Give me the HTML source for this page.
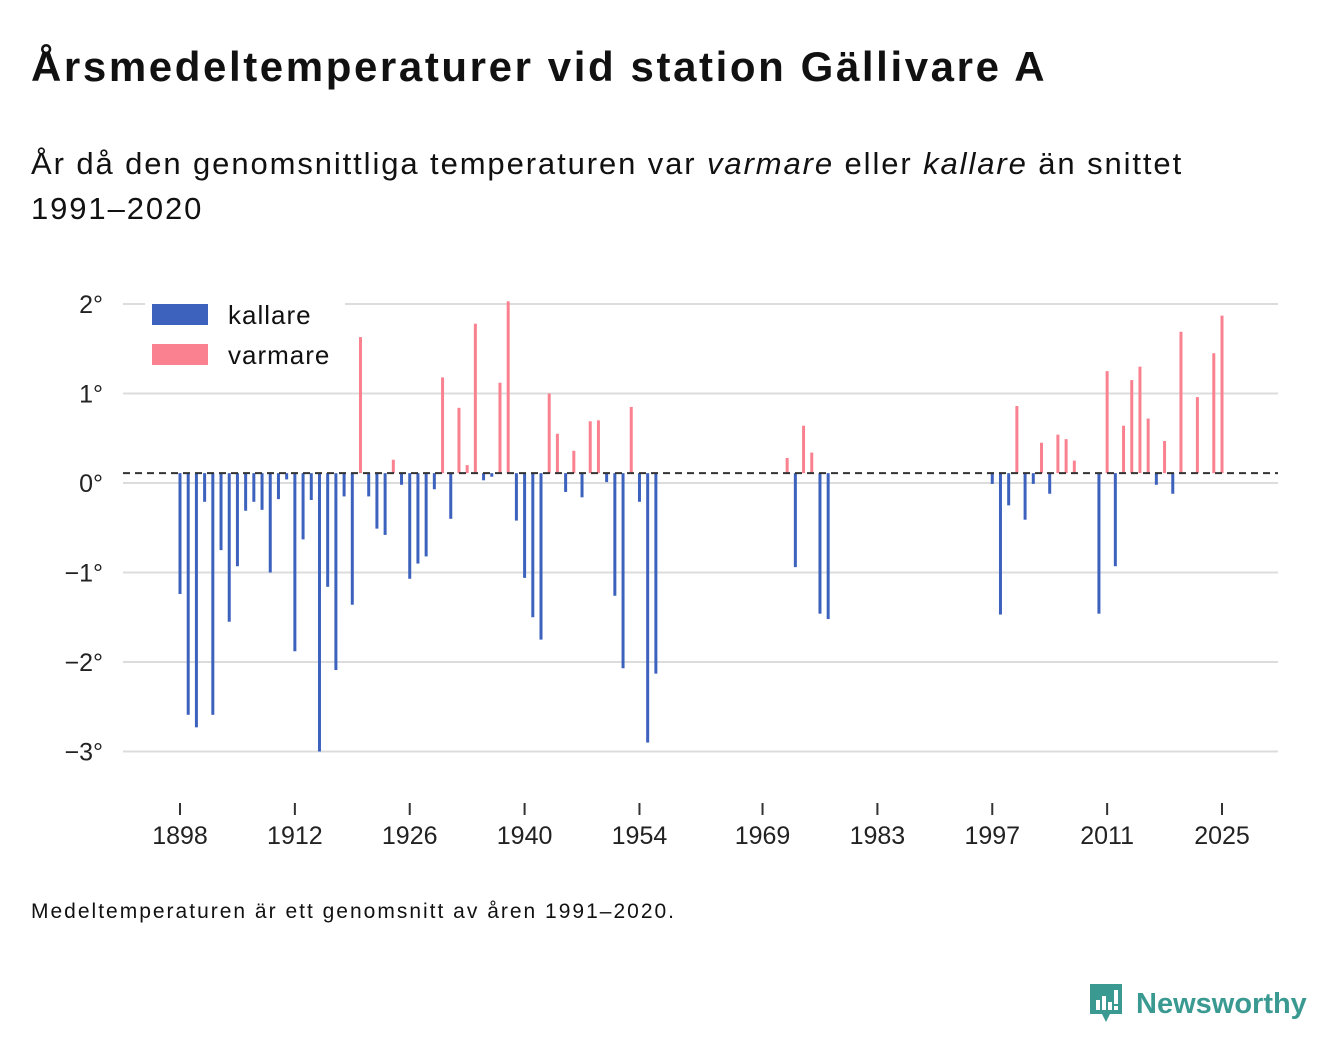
<!DOCTYPE html>
<html><head><meta charset="utf-8">
<style>
body{margin:0;background:#fff;font-family:"Liberation Sans",sans-serif;color:#111;}
#wrap{position:relative;width:1340px;height:1056px;overflow:hidden;}
h1{position:absolute;left:31px;top:43px;margin:0;font-size:42px;font-weight:bold;letter-spacing:2.6px;white-space:nowrap;}
.sub{position:absolute;left:31px;top:141px;font-size:31px;line-height:45px;width:1220px;letter-spacing:1.9px;}
.foot{position:absolute;left:31px;top:900px;font-size:21px;letter-spacing:2px;}
.logo{position:absolute;left:1088px;top:982px;display:flex;align-items:center;color:#3a9a92;font-size:29px;font-weight:bold;}
</style></head><body>
<div id="wrap">
<h1>Årsmedeltemperaturer vid station Gällivare A</h1>
<div class="sub">År då den genomsnittliga temperaturen var <i>varmare</i> eller <i>kallare</i> än snittet 1991–2020</div>
<svg id="chart" width="1340" height="1056" style="position:absolute;left:0;top:0"></svg>
<div class="foot">Medeltemperaturen är ett genomsnitt av åren 1991–2020.</div>
<div class="logo">
<svg width="36" height="44" viewBox="0 0 36 44"><path d="M2 2h32v30H22l-4 8-4-8H2z" fill="#3a9a92"/><rect x="8" y="18" width="4" height="10" fill="#fff"/><rect x="14" y="14" width="4" height="14" fill="#fff"/><rect x="20" y="20" width="4" height="8" fill="#fff"/><rect x="26" y="8" width="4" height="14" fill="#fff"/><rect x="26" y="24" width="4" height="4" fill="#fff"/></svg>
<span style="margin-left:12px">Newsworthy</span></div>
</div>
<script>
const years=[1898,1899,1900,1901,1902,1903,1904,1905,1906,1907,1908,1909,1910,1911,1912,1913,1914,1915,1916,1917,1918,1919,1920,1921,1922,1923,1924,1925,1926,1927,1928,1929,1930,1931,1932,1933,1934,1935,1936,1937,1938,1939,1940,1941,1942,1943,1944,1945,1946,1947,1948,1949,1950,1951,1952,1953,1954,1955,1956,1972,1973,1974,1975,1976,1977,1997,1998,1999,2000,2001,2002,2003,2004,2005,2006,2007,2010,2011,2012,2013,2014,2015,2016,2017,2018,2019,2020,2022,2024,2025];
const values=[-1.24,-2.59,-2.73,-0.21,-2.59,-0.75,-1.55,-0.93,-0.31,-0.21,-0.30,-1.0,-0.18,0.04,-1.88,-0.63,-0.19,-3.0,-1.16,-2.09,-0.15,-1.36,1.63,-0.15,-0.51,-0.58,0.26,-0.02,-1.07,-0.9,-0.82,-0.07,1.18,-0.40,0.84,0.2,1.78,0.03,0.07,1.12,2.03,-0.42,-1.06,-1.5,-1.75,1.0,0.55,-0.1,0.36,-0.16,0.69,0.7,0.01,-1.26,-2.07,0.85,-0.21,-2.9,-2.13,0.28,-0.94,0.64,0.34,-1.46,-1.52,-0.01,-1.47,-0.25,0.86,-0.41,-0.01,0.45,-0.12,0.54,0.49,0.25,-1.46,1.25,-0.93,0.64,1.15,1.3,0.72,-0.02,0.47,-0.12,1.69,0.96,1.45,1.87];
const refLine=0.11;
const yTicks=[2,1,0,-1,-2,-3];
const yTickLabels=["2°","1°","0°","−1°","−2°","−3°"];
const xTicks=[1898,1912,1926,1940,1954,1969,1983,1997,2011,2025];
const xTickLabels=["1898","1912","1926","1940","1954","1969","1983","1997","2011","2025"];

const NS="http://www.w3.org/2000/svg";
const svg=document.getElementById('chart');
const y=v=>483-v*89.5;
const x=yr=>180+(yr-1898)*(1222-180)/(2025-1898);
function mk(tag,attrs){const e=document.createElementNS(NS,tag);for(const k in attrs)e.setAttribute(k,attrs[k]);svg.appendChild(e);return e;}
yTicks.forEach((t,i)=>{
 const g=mk('line',{x1:123,x2:1278,y1:y(t),y2:y(t),stroke:'#dcdcdc','stroke-width':2});
 
 
 const l=mk('text',{x:103,y:y(t)+9,'text-anchor':'end','font-size':25,fill:'#222','font-family':'Liberation Sans, sans-serif'});
 l.textContent=yTickLabels[i];
 
 
});
xTicks.forEach((t,i)=>{
 const tk=mk('line',{x1:x(t),x2:x(t),y1:803,y2:815,stroke:'#333','stroke-width':2});
 
 
 const l=mk('text',{x:x(t),y:844,'text-anchor':'middle','font-size':25,fill:'#222','font-family':'Liberation Sans, sans-serif'});
 l.textContent=xTickLabels[i];
 
 
});
const lb=mk('rect',{x:145,y:295,width:200,height:80,fill:'#fff'});


[['kallare','#3d62be',304],['varmare','#fa8290',344]].forEach(([n,c,yy])=>{
 const r=mk('rect',{x:152,y:yy,width:56,height:21,fill:c});
 
 
 const t=mk('text',{x:228,y:yy+20,'font-size':26,fill:'#111','letter-spacing':1,'font-family':'Liberation Sans, sans-serif'});
 t.textContent=n;
 
 
});
years.forEach((yr,i)=>{
 const v=values[i];
 const top=Math.min(y(v),y(refLine)),h=Math.abs(y(v)-y(refLine));
 const b=mk('rect',{x:x(yr)-1.5,y:top,width:3,height:Math.max(h,0.5),fill:v>=refLine?'#fa8290':'#3d62be'});
 
 
});
const d=mk('line',{x1:123,x2:1278,y1:y(refLine),y2:y(refLine),stroke:'#333','stroke-width':2,'stroke-dasharray':'7,5'});


</script>
</body></html>
